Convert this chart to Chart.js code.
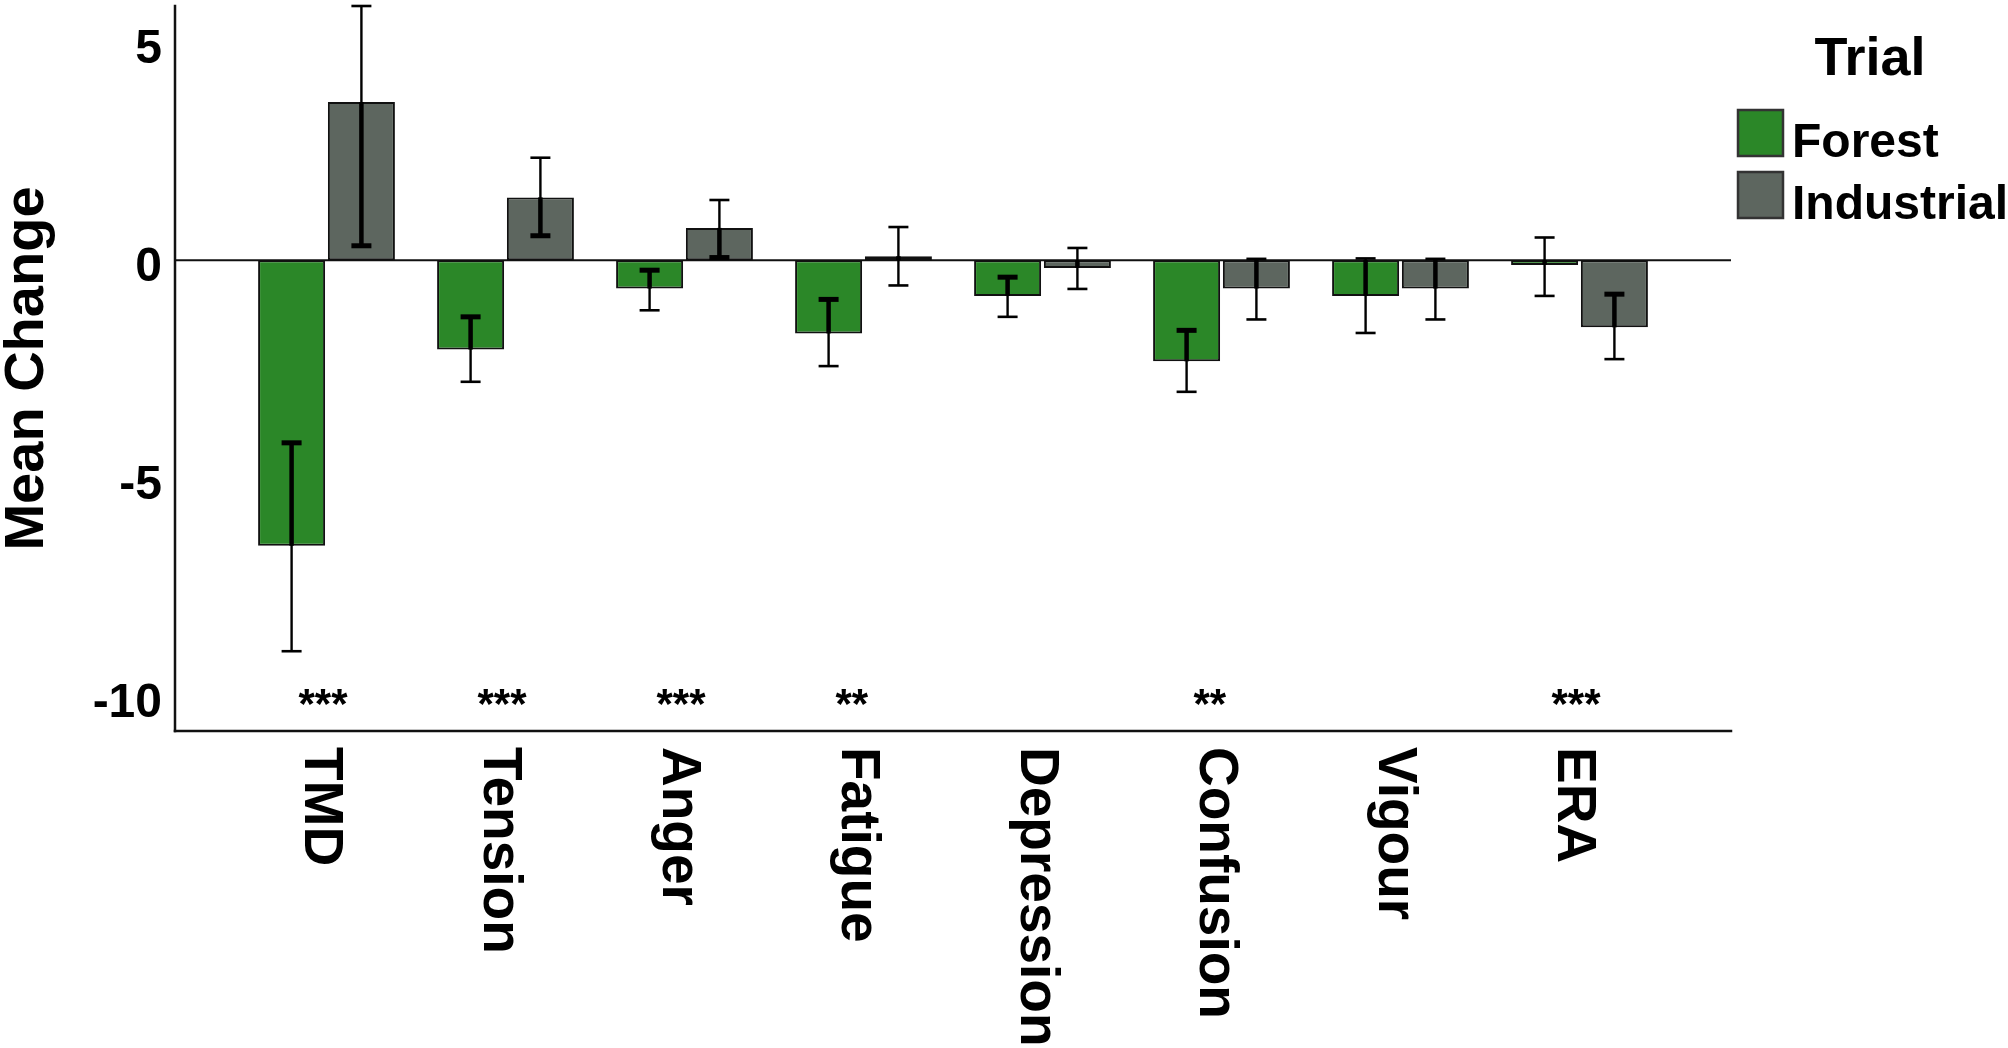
<!DOCTYPE html>
<html>
<head>
<meta charset="utf-8">
<script src="https://cdn.jsdelivr.net/npm/chart.js@4/dist/chart.umd.min.js"></script>
<style>
  html, body { margin: 0; padding: 0; background: #fff; }
  #wrap { width: 2008px; height: 1048px; position: relative; }
</style>
</head>
<body>
<div id="wrap"><canvas id="chart"></canvas></div>
<script>
// categories and series (mean change with error bar limits)
const categories = ['TMD', 'Tension', 'Anger', 'Fatigue', 'Depression', 'Confusion', 'Vigour', 'ERA'];

const forestMeans = [-6.55, -2.05, -0.65, -1.68, -0.82, -2.32, -0.82, -0.11];
const forestLow   = [-8.97, -2.79, -1.15, -2.43, -1.30, -3.02, -1.67, -0.82];
const forestHigh  = [-4.19, -1.30, -0.23, -0.90, -0.39, -1.61, 0.04, 0.52];

const industrialMeans = [3.63, 1.44, 0.74, 0.09, -0.18, -0.65, -0.65, -1.54];
const industrialLow   = [0.33, 0.56, 0.06, -0.58, -0.66, -1.36, -1.36, -2.27];
const industrialHigh  = [5.83, 2.35, 1.38, 0.76, 0.28, 0.03, 0.03, -0.78];

const significance = ['***', '***', '***', '**', '', '**', '', '***'];
const starLevel = -10;

const yTicks = [-10, -5, 0, 5];
const seriesNames = ['Forest', 'Industrial'];
const legendTitle = 'Trial';

const FOREST = '#2b8728';
const INDUSTRIAL = '#5d665f';
const FONT = '"Liberation Sans", Arial, sans-serif';

const errLow = [forestLow, industrialLow];
const errHigh = [forestHigh, industrialHigh];
const means = [forestMeans, industrialMeans];

// axis lines stick out past the first/last category
const overhang = 62;

function seg(ctx, x1, y1, x2, y2, w) {
  ctx.lineWidth = w;
  ctx.beginPath();
  ctx.moveTo(x1, y1);
  ctx.lineTo(x2, y2);
  ctx.stroke();
}

const decor = {
  id: 'decor',
  beforeDatasetsDraw(chart) {
    const { ctx, chartArea, scales } = chart;
    const y0 = scales.y.getPixelForValue(0);
    ctx.save();
    ctx.strokeStyle = '#111';
    seg(ctx, chartArea.left - overhang, y0, chartArea.right + overhang, y0, 2);
    ctx.restore();
  },
  afterDatasetsDraw(chart) {
    const { ctx, scales } = chart;
    const ys = scales.y;
    const y0 = ys.getPixelForValue(0);
    ctx.save();
    ctx.strokeStyle = '#000';
    ctx.lineCap = 'butt';

    // error bars: thicker where they run over the bar fill
    for (let d = 0; d < 2; d++) {
      const meta = chart.getDatasetMeta(d);
      meta.data.forEach((bar, i) => {
        const x = bar.x;
        const yHi = ys.getPixelForValue(errHigh[d][i]);
        const yLo = ys.getPixelForValue(errLow[d][i]);
        const yM = ys.getPixelForValue(means[d][i]);
        const bTop = Math.min(y0, yM), bBot = Math.max(y0, yM);
        seg(ctx, x, yHi, x, yLo, 2.4);
        const inTop = Math.max(yHi, bTop), inBot = Math.min(yLo, bBot);
        if (inBot > inTop) seg(ctx, x, inTop, x, inBot, 4.5);
        [yHi, yLo].forEach(yc => {
          const inside = yc > bTop + 1 && yc < bBot - 1;
          seg(ctx, x - 10, yc, x + 10, yc, inside ? 5 : 2.6);
        });
      });
    }

    // significance stars
    const xs = scales.x;
    ctx.fillStyle = '#000';
    ctx.font = 'bold 42px ' + FONT;
    ctx.textAlign = 'left';
    ctx.textBaseline = 'middle';
    significance.forEach((s, i) => {
      if (!s) return;
      ctx.fillText(s, xs.getPixelForValue(i) - 28, ys.getPixelForValue(starLevel) + 10);
    });
    ctx.restore();
  },
  afterDraw(chart) {
    const { ctx, chartArea, scales } = chart;
    const left = chartArea.left - overhang;
    const right = chartArea.right + overhang;
    ctx.save();
    ctx.strokeStyle = '#111';
    ctx.lineCap = 'square';
    seg(ctx, left, chartArea.top, left, chartArea.bottom, 2.5);
    seg(ctx, left, chartArea.bottom, right, chartArea.bottom, 2.5);

    // rotated category labels, reading top to bottom
    ctx.fillStyle = '#000';
    ctx.font = 'bold 55px ' + FONT;
    ctx.textAlign = 'left';
    ctx.textBaseline = 'middle';
    categories.forEach((c, i) => {
      const x = scales.x.getPixelForValue(i) - 6;
      ctx.save();
      ctx.translate(x, chartArea.bottom + 16);
      ctx.rotate(Math.PI / 2);
      ctx.fillText(c, 0, 0);
      ctx.restore();
    });

    // legend
    const lx = right + 7;
    ctx.textBaseline = 'alphabetic';
    ctx.textAlign = 'center';
    ctx.font = 'bold 54px ' + FONT;
    ctx.fillText(legendTitle, lx + 132, 75);
    ctx.textAlign = 'left';
    ctx.font = 'bold 48px ' + FONT;
    const colors = [FOREST, INDUSTRIAL];
    const boxTops = [110, 172];
    seriesNames.forEach((name, i) => {
      ctx.fillStyle = colors[i];
      ctx.fillRect(lx, boxTops[i], 45, 46);
      ctx.strokeStyle = '#333';
      ctx.lineWidth = 2.5;
      ctx.strokeRect(lx, boxTops[i], 45, 46);
      ctx.fillStyle = '#000';
      ctx.fillText(name, lx + 54, boxTops[i] + 47);
    });
    ctx.restore();
  }
};

new Chart(document.getElementById('chart'), {
  type: 'bar',
  data: {
    labels: categories,
    datasets: [
      {
        label: seriesNames[0],
        data: forestMeans,
        backgroundColor: FOREST,
        borderColor: '#111',
        borderWidth: 2,
        borderSkipped: false,
        categoryPercentage: 0.78,
        barPercentage: 0.96
      },
      {
        label: seriesNames[1],
        data: industrialMeans,
        backgroundColor: INDUSTRIAL,
        borderColor: '#111',
        borderWidth: 2,
        borderSkipped: false,
        categoryPercentage: 0.78,
        barPercentage: 0.96
      }
    ]
  },
  options: {
    responsive: true,
    maintainAspectRatio: false,
    animation: false,
    layout: { padding: { top: 6, right: 339, left: 0, bottom: 0 } },
    plugins: {
      legend: { display: false },
      tooltip: { enabled: false }
    },
    scales: {
      x: {
        grid: { display: false },
        border: { display: false },
        ticks: { display: false },
        afterFit: (s) => { s.height = 317; }
      },
      y: {
        min: -10.8,
        max: 5.83,
        grid: { display: false, drawTicks: false },
        border: { display: false },
        afterBuildTicks: (s) => { s.ticks = yTicks.map(v => ({ value: v })); },
        afterFit: (s) => { s.width = 237; s.paddingTop = 0; s.paddingBottom = 0; },
        ticks: {
          color: '#000',
          padding: 75,
          labelOffset: 8,
          font: { family: FONT, size: 48, weight: 'bold' },
          callback: (v) => String(v)
        },
        title: {
          display: true,
          text: 'Mean Change',
          color: '#000',
          padding: 0,
          font: { family: FONT, size: 56, weight: 'bold', lineHeight: 1 }
        }
      }
    }
  },
  plugins: [decor]
});
</script>
</body>
</html>
